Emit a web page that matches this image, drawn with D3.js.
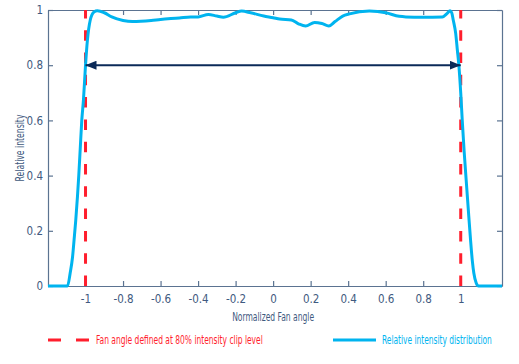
<!DOCTYPE html>
<html>
<head>
<meta charset="utf-8">
<script src="https://cdn.jsdelivr.net/npm/d3@7"></script>
<style>
  body { margin: 0; background: #fff; }
  svg text { font-family: "DejaVu Sans Condensed", "Liberation Sans Narrow", "DejaVu Sans", sans-serif; font-stretch: condensed; }
</style>
</head>
<body>
<div id="chart"></div>
<script>
// fan angle profile
const angle = [-1.2, -1.096, -1.082, -1.069, -1.061, -1.052, -1.043, -1.036, -1.028, -1.02, -1.011, -1.0, -0.99,
  -0.975, -0.955, -0.937, -0.9, -0.86, -0.8, -0.75, -0.65, -0.6, -0.5, -0.44, -0.4, -0.345, -0.3, -0.265,
  -0.2, -0.168, -0.12, -0.05, 0.0, 0.035, 0.097, 0.135, 0.173, 0.221, 0.26, 0.297, 0.33, 0.371, 0.407,
  0.513, 0.601, 0.672, 0.708, 0.796, 0.902, 0.928, 0.943, 0.952, 0.96, 0.973, 0.982, 0.99, 1.0, 1.008,
  1.018, 1.029, 1.04, 1.052, 1.062, 1.07, 1.082, 1.095, 1.22];
const intensity = [0, 0, 0.046, 0.106, 0.167, 0.239, 0.324, 0.4, 0.5, 0.6, 0.674, 0.8, 0.89,
  0.963, 0.993, 0.997, 0.99, 0.975, 0.962, 0.958, 0.962, 0.966, 0.971, 0.975, 0.975, 0.984, 0.978, 0.974,
  0.99, 0.996, 0.99, 0.978, 0.972, 0.967, 0.964, 0.95, 0.942, 0.955, 0.951, 0.942, 0.958, 0.978, 0.986,
  0.996, 0.99, 0.977, 0.975, 0.974, 0.975, 0.988, 0.997, 0.99, 0.964, 0.916, 0.855, 0.8, 0.7, 0.601,
  0.49, 0.384, 0.28, 0.17, 0.09, 0.046, 0.012, 0, 0];

const xTicks = [-1, -0.8, -0.6, -0.4, -0.2, 0, 0.2, 0.4, 0.6, 0.8, 1];
const yTicks = [0, 0.2, 0.4, 0.6, 0.8, 1];
const clipAngles = [-1, 1];
const clipLevel = 0.8;

const xLabel = "Normalized Fan angle";
const yLabel = "Relative intensity";
const legendLabels = ["Fan angle defined at 80% intensity clip level", "Relative intensity distribution"];

const axisColor = "#5b7391";
const textColor = "#3f5a80";
const red = "#ff1e2d";
const blue = "#00b4ef";
const navy = "#0b2a58";

const margin = { top: 10, right: 17, bottom: 78, left: 48 };
const width = 519 - margin.left - margin.right;
const height = 364 - margin.top - margin.bottom;

const svg = d3.select("#chart")
  .append("svg")
  .attr("width", 519)
  .attr("height", 364);

// squeeze a text to a given width (the original uses a condensed face)
function fitText(sel, px, py, w, rot) {
  const n = sel.node().getComputedTextLength();
  const s = n > 0 ? w / n : 1;
  sel.attr("x", 0).attr("y", 0)
    .attr("transform", `translate(${px},${py})${rot ? ` rotate(${rot})` : ""} scale(${s},1)`);
}

const defs = svg.append("defs");
defs.append("marker")
  .attr("id", "head")
  .attr("viewBox", "0 0 11 9")
  .attr("refX", 11)
  .attr("refY", 4.5)
  .attr("markerWidth", 11)
  .attr("markerHeight", 9)
  .attr("markerUnits", "userSpaceOnUse")
  .attr("orient", "auto-start-reverse")
  .append("path")
  .attr("d", "M0,0 L11,4.5 L0,9 Z")
  .attr("fill", navy);

const g = svg.append("g")
  .attr("transform", `translate(${margin.left},${margin.top})`);

const x = d3.scaleLinear().domain([-1.2, 1.22]).range([0, width]);
const y = d3.scaleLinear().domain([0, 1]).range([height, 0]);

const fmt = d => String(d);

// axes, ticks pointing inward
const styleAxis = sel => {
  sel.select(".domain").attr("stroke", axisColor).attr("stroke-width", 1.2);
  sel.selectAll(".tick line").attr("stroke", axisColor).attr("stroke-width", 1.2);
  sel.selectAll(".tick text").attr("fill", textColor).attr("font-size", "11.5px");
};

g.append("g")
  .attr("transform", `translate(0,${height})`)
  .call(d3.axisBottom(x).tickValues(xTicks).tickFormat(fmt).tickSize(-5).tickSizeOuter(0).tickPadding(9))
  .call(styleAxis);

g.append("g")
  .call(d3.axisTop(x).tickValues(xTicks).tickFormat("").tickSize(-5).tickSizeOuter(0))
  .call(styleAxis);

g.append("g")
  .call(d3.axisLeft(y).tickValues(yTicks).tickFormat(fmt).tickSize(-5).tickSizeOuter(0).tickPadding(5))
  .call(styleAxis);

g.append("g")
  .attr("transform", `translate(${width},0)`)
  .call(d3.axisRight(y).tickValues(yTicks).tickFormat("").tickSize(-5).tickSizeOuter(0))
  .call(styleAxis);

// axis titles
g.append("text")
  .attr("text-anchor", "middle")
  .attr("fill", textColor)
  .attr("font-size", "11.5px")
  .text(xLabel)
  .call(fitText, x(0), height + 35, 82);

g.append("text")
  .attr("text-anchor", "middle")
  .attr("dy", "0.35em")
  .attr("fill", textColor)
  .attr("font-size", "11.5px")
  .text(yLabel)
  .call(fitText, 20 - margin.left, height / 2, 67, -90);

// clip level lines
g.selectAll(".clip")
  .data(clipAngles)
  .enter()
  .append("line")
  .attr("class", "clip")
  .attr("x1", d => x(d))
  .attr("x2", d => x(d))
  .attr("y1", y(0))
  .attr("y2", y(1))
  .attr("stroke", red)
  .attr("stroke-width", 3)
  .attr("stroke-dasharray", "10.5,11.8");

// intensity curve
const pts = angle.map((a, i) => [a, intensity[i]]);
const line = d3.line()
  .x(d => x(d[0]))
  .y(d => y(d[1]))
  .curve(d3.curveMonotoneX);

g.append("path")
  .datum(pts)
  .attr("fill", "none")
  .attr("stroke", blue)
  .attr("stroke-width", 3)
  .attr("stroke-linejoin", "round")
  .attr("d", line);

// double arrow at the clip level
g.append("line")
  .attr("x1", x(clipAngles[0]))
  .attr("x2", x(clipAngles[1]))
  .attr("y1", y(clipLevel))
  .attr("y2", y(clipLevel))
  .attr("stroke", navy)
  .attr("stroke-width", 2)
  .attr("marker-start", "url(#head)")
  .attr("marker-end", "url(#head)");

// legend
const legY = 340;
svg.append("line")
  .attr("x1", 48).attr("x2", 90)
  .attr("y1", legY).attr("y2", legY)
  .attr("stroke", red)
  .attr("stroke-width", 3)
  .attr("stroke-dasharray", "13,15");

svg.append("text")
  .attr("dy", "0.35em")
  .attr("fill", red)
  .attr("font-size", "11.5px")
  .text(legendLabels[0])
  .call(fitText, 96, legY, 167);

svg.append("line")
  .attr("x1", 333).attr("x2", 376)
  .attr("y1", legY).attr("y2", legY)
  .attr("stroke", blue)
  .attr("stroke-width", 3);

svg.append("text")
  .attr("dy", "0.35em")
  .attr("fill", blue)
  .attr("font-size", "11.5px")
  .text(legendLabels[1])
  .call(fitText, 382, legY, 110);
</script>
</body>
</html>
